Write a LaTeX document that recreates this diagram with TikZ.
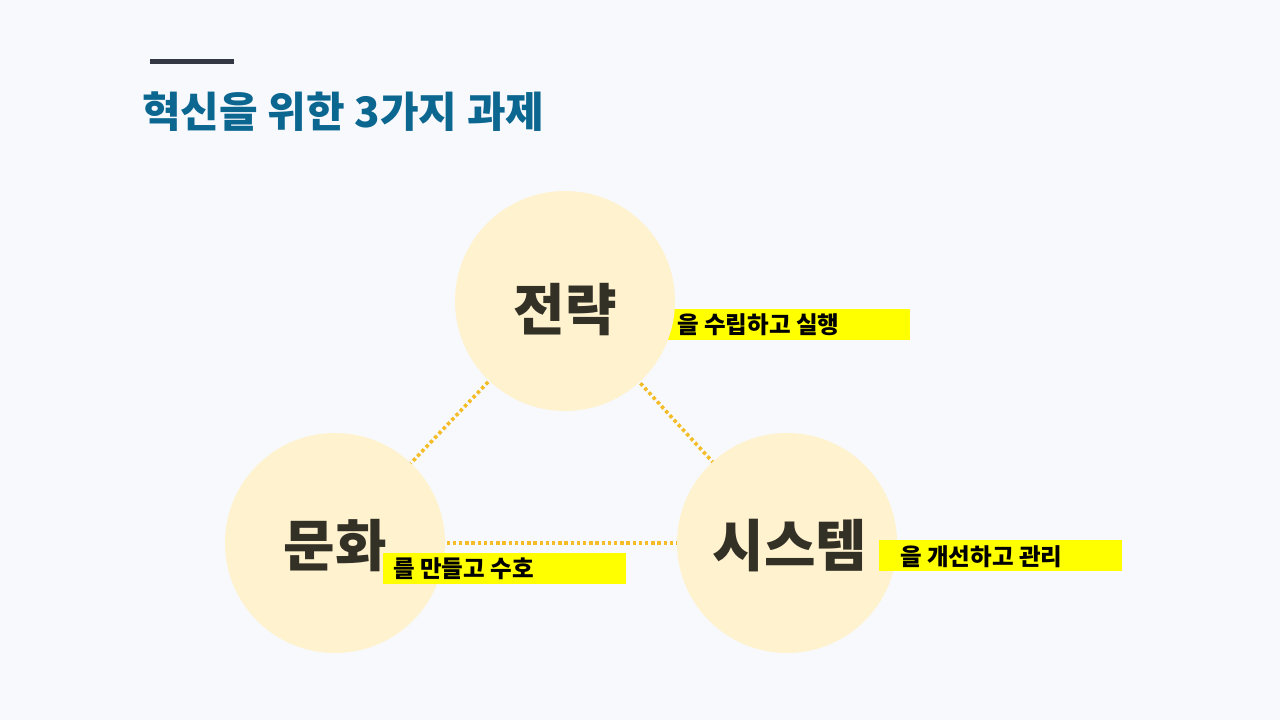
\documentclass[tikz,border=0pt]{standalone}
\usepackage{fontspec}
\newfontfamily\kr{Noto Sans CJK KR}[BoldFont={* Bold}]
\newfontfamily\krblack{Noto Sans CJK KR Black}
\definecolor{bg}{HTML}{F7F9FD}
\definecolor{circ}{HTML}{FFF2CF}
\definecolor{dotc}{HTML}{F4BD28}
\definecolor{titlec}{HTML}{0B6690}
\definecolor{barc}{HTML}{333844}
\definecolor{txt}{HTML}{333026}
\definecolor{hl}{HTML}{FFFF00}
\begin{document}
\begin{tikzpicture}[x=1pt,y=-1pt,
  bubble/.style={circle,fill=circ,minimum size=220pt,inner sep=0pt,font=\krblack\fontsize{56}{60}\selectfont,text=txt},
  bubtext/.style={inner sep=0pt,font=\krblack\fontsize{56}{60}\selectfont,text=txt},
  link/.style={dotc,line width=3.6pt,dash pattern=on 3.4pt off 2.8pt},
  hltext/.style={anchor=west,font=\krblack\fontsize{23.5}{26}\selectfont,text=black,inner sep=0pt}]
\fill[bg] (0,0) rectangle (1280,720);
\useasboundingbox (0,0) rectangle (1280,720);
% title
\fill[barc] (150,59) rectangle (234,64);
\node[anchor=west,inner sep=0pt,font=\krblack\fontsize{42}{48}\selectfont,text=titlec] (title) at (142,112) {혁신을 위한 3가지 과제};
% centres
\coordinate (c1) at (565,301);
\coordinate (c2) at (335,543);
\coordinate (c3) at (787,543);
% links
\draw[link] (c1) -- (c2);
\draw[link] (c1) -- (c3);
\draw[link] (c2) -- (c3);
% highlight box under circle 1
\fill[hl] (660,309) rectangle (910,340);
\node[bubble] (s) at (c1) {};
\node[bubble] (m) at (c2) {};
\node[bubble] (y) at (c3) {};
\node[bubtext] (st) at (565,310) {전략};
\node[bubtext] (mt) at (335,546) {문화};
\node[bubtext] (yt) at (790,546) {시스템};
\fill[hl] (383,553) rectangle (626,584);
\fill[hl] (879,540) rectangle (1122,571);
\node[hltext] (t1) at (677,325) {을 수립하고 실행};
\node[hltext] (t2) at (393,569) {를 만들고 수호};
\node[hltext] (t3) at (900,557) {을 개선하고 관리};
\end{tikzpicture}
\end{document}
